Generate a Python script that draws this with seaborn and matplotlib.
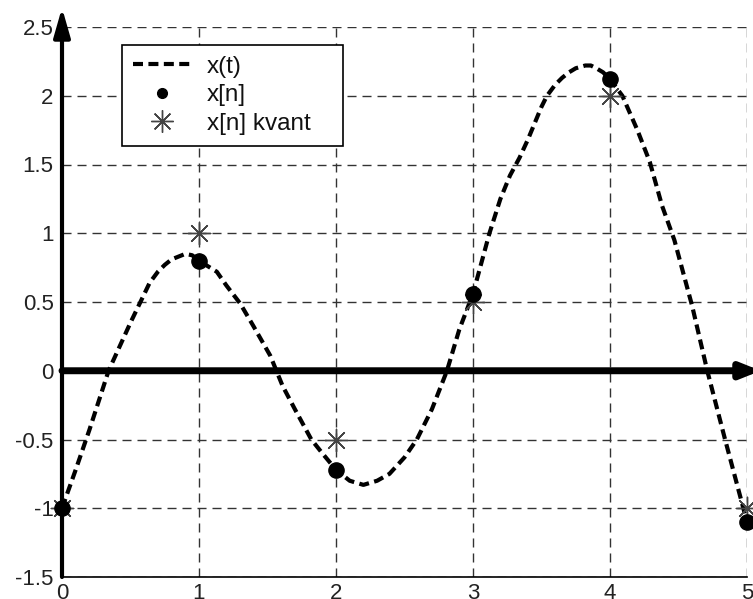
import numpy as np
import pandas as pd
import matplotlib
matplotlib.use("Agg")
import matplotlib.pyplot as plt
from matplotlib.lines import Line2D
import seaborn as sns

# continuous signal x(t)
t_curve = [0.0, 0.1, 0.2, 0.34, 0.5, 0.64, 0.7, 0.75, 0.8, 0.9, 0.95, 1.0, 1.13, 1.2, 1.3, 1.4,
           1.52, 1.61, 1.7, 1.82, 1.9, 2.0, 2.1, 2.2, 2.3, 2.39, 2.5, 2.59, 2.7,
           2.81, 2.9, 3.0, 3.12, 3.2, 3.27, 3.34, 3.4, 3.45, 3.5, 3.54, 3.6, 3.65, 3.7,
           3.75, 3.82, 3.86, 3.9, 3.95, 4.0, 4.09, 4.2, 4.29, 4.38, 4.47, 4.6, 4.71,
           4.84, 4.92, 5.0]
x_curve = [-1.0, -0.72, -0.43, 0.0, 0.35, 0.64, 0.72, 0.77, 0.81, 0.85, 0.84, 0.8, 0.72, 0.62, 0.49, 0.32,
           0.11, -0.11, -0.28, -0.5, -0.6, -0.72, -0.8, -0.83, -0.8, -0.75, -0.63, -0.5, -0.28,
           0.0, 0.3, 0.56, 1.0, 1.25, 1.42, 1.55, 1.68, 1.8, 1.92, 2.0, 2.08, 2.13, 2.17,
           2.2, 2.22, 2.22, 2.2, 2.17, 2.12, 2.0, 1.75, 1.52, 1.2, 0.95, 0.47, 0.0,
           -0.5, -0.8, -1.1]

# samples and quantized samples
n = [0, 1, 2, 3, 4, 5]
x_n = [-1.0, 0.8, -0.72, 0.56, 2.12, -1.1]
x_q = [-1.0, 1.0, -0.5, 0.5, 2.0, -1.0]

yticks = [-1.5, -1, -0.5, 0, 0.5, 1, 1.5, 2, 2.5]
ytick_labels = ["-1.5", "-1", "-0.5", "0", "0.5", "1", "1.5", "2", "2.5"]
xticks = [0, 1, 2, 3, 4, 5]

sns.set_style("white")
plt.rcParams['font.family'] = ['Liberation Sans', 'DejaVu Sans']

fig = plt.figure(figsize=(7.53, 5.99), dpi=100)
ax = fig.add_axes([62 / 753, 1 - 577 / 599, 685 / 753, 550 / 599])

df_curve = pd.DataFrame({"t": t_curve, "x": x_curve})
df_n = pd.DataFrame({"n": n, "x": x_n})
df_q = pd.DataFrame({"n": n, "x": x_q})

sns.lineplot(data=df_curve, x="t", y="x", ax=ax, color="black", lw=3,
             sort=False, estimator=None, zorder=4)
ax.lines[-1].set_linestyle((0, (2.4, 1.3)))
ax.lines[-1].set_solid_joinstyle("round")

sns.scatterplot(data=df_q, x="n", y="x", ax=ax, marker=(8, 2, 0), s=260,
                color="#444444", edgecolor="#444444", linewidth=1, zorder=5, clip_on=False)
sns.scatterplot(data=df_n, x="n", y="x", ax=ax, marker="o", s=120,
                color="black", edgecolor="black", linewidth=1, zorder=6, clip_on=False)

ax.set_xlim(0, 5)
ax.set_ylim(-1.5, 2.5)
ax.set_xticks(xticks)
ax.set_xticklabels([str(v) for v in xticks])
ax.set_yticks(yticks)
ax.set_yticklabels(ytick_labels)
ax.set_xlabel("")
ax.set_ylabel("")
ax.tick_params(axis="both", direction="in", length=4, labelsize=16, colors="#222222")
ax.tick_params(axis="x", pad=4)
ax.tick_params(axis="y", pad=6)

ax.grid(True, color="#333333", lw=1, linestyle=(0, (6.5, 4.3)))
ax.set_axisbelow(True)
for side in ["top", "right"]:
    ax.spines[side].set_visible(False)
ax.spines["bottom"].set_color("black")
ax.spines["bottom"].set_linewidth(1.2)
ax.spines["left"].set_visible(False)

# thick axis arrows
ax.annotate("", xy=(0, 2.64), xytext=(0, -1.5),
            arrowprops=dict(arrowstyle="-|>,head_length=0.7,head_width=0.2", lw=3,
                            color="black", mutation_scale=25, shrinkA=0, shrinkB=0),
            annotation_clip=False, zorder=7)
ax.annotate("", xy=(5.1, 0), xytext=(0, 0),
            arrowprops=dict(arrowstyle="-|>,head_length=0.45,head_width=0.18", lw=5,
                            color="black", mutation_scale=25, shrinkA=0, shrinkB=0),
            annotation_clip=False, zorder=7)

handles = [
    Line2D([], [], color="black", lw=3, linestyle=(0, (2.4, 1.3))),
    Line2D([], [], color="black", marker="o", linestyle="", markersize=7),
    Line2D([], [], color="#444444", marker=(8, 2, 0), linestyle="", markersize=16, mew=1),
]
leg = ax.legend(handles, ["x(t)", "x[n]", "x[n] kvant"], loc="upper left",
                bbox_to_anchor=((122 - 62) / 685, (577 - 45) / 550 - 0.01, 221 / 685, 0.01),
                mode="expand", borderaxespad=0,
                fontsize=17.5, frameon=True, fancybox=False, shadow=False,
                handlelength=2.4, handletextpad=0.65, labelspacing=0.26, borderpad=0.45)
leg.get_frame().set_edgecolor("black")
leg.get_frame().set_linewidth(1.2)
leg.get_frame().set_alpha(1)
leg.set_zorder(10)
for txt in leg.get_texts():
    txt.set_color("#111111")

fig.savefig("out.png", dpi=100)
